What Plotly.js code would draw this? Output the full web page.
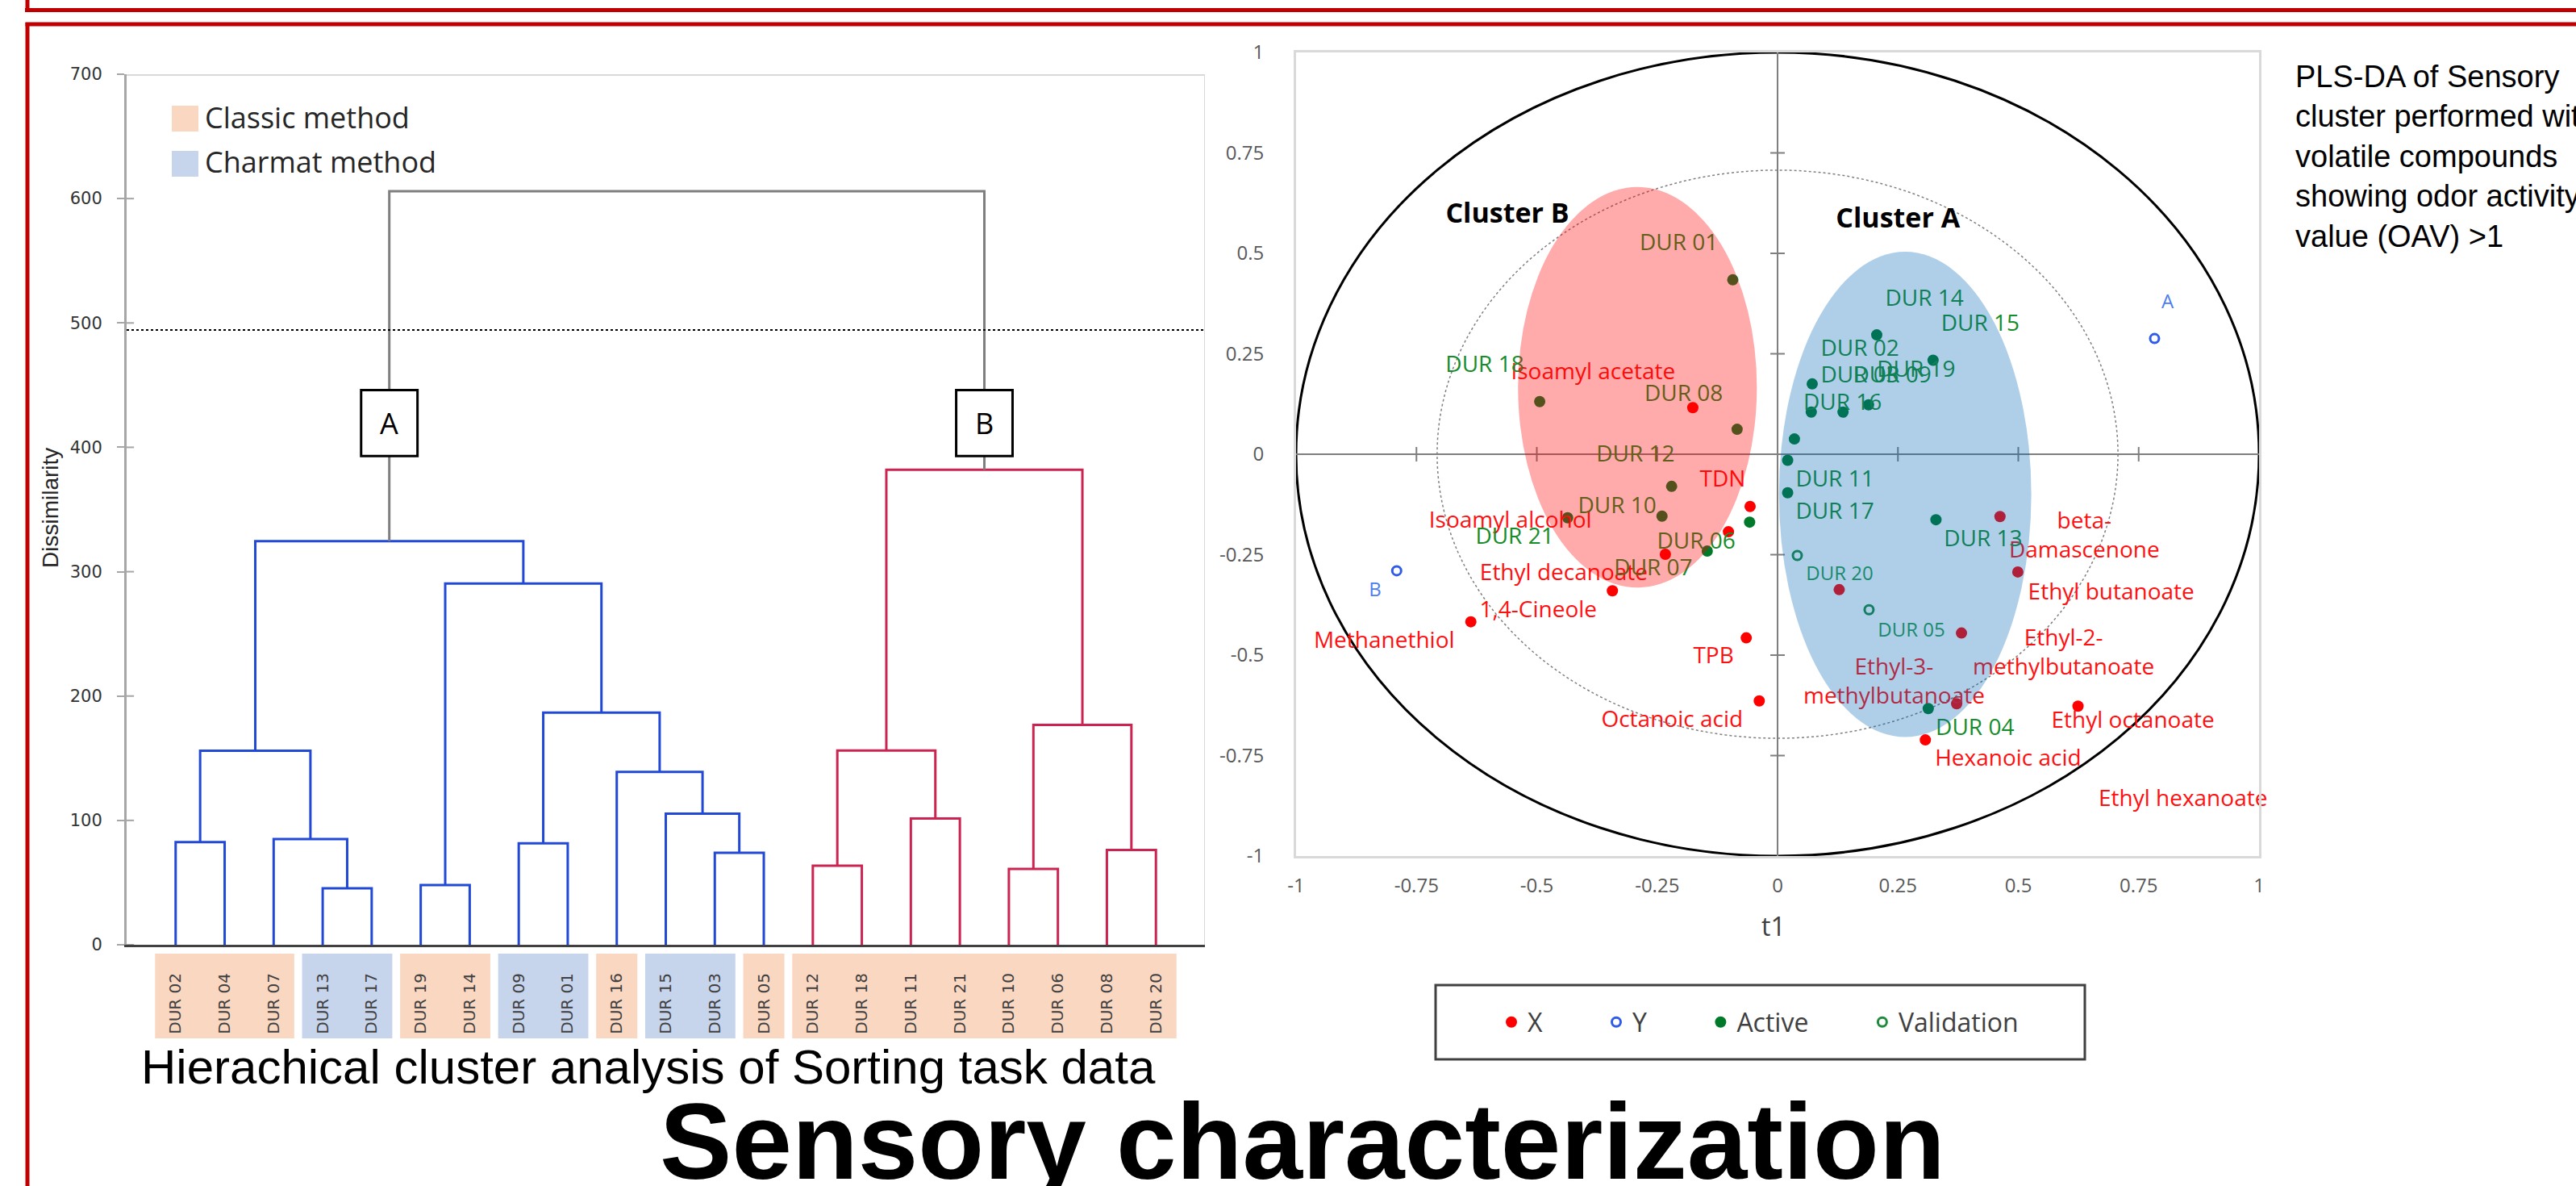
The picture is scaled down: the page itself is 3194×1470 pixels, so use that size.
<!DOCTYPE html>
<html><head><meta charset="utf-8">
<script src="https://cdn.plot.ly/plotly-3.0.1.min.js"></script>
<style>html,body{margin:0;padding:0;background:#fff;overflow:hidden}</style>
</head><body><div id="chart" style="width:3194px;height:1470px"></div>
<script>
// ---------------- Dendrogram data ----------------
const leafNames = ["DUR 02","DUR 04","DUR 07","DUR 13","DUR 17","DUR 19","DUR 14","DUR 09","DUR 01","DUR 16","DUR 15","DUR 03","DUR 05","DUR 12","DUR 18","DUR 11","DUR 21","DUR 10","DUR 06","DUR 08","DUR 20"];
const leafMethod = ["Classic","Classic","Classic","Charmat","Charmat","Classic","Classic","Charmat","Charmat","Classic","Charmat","Charmat","Classic","Classic","Classic","Classic","Classic","Classic","Classic","Classic","Classic"];
const mergeLeft   = ["DUR 13","DUR 19","DUR 03","DUR 09","DUR 02","DUR 07","DUR 15","DUR 16","n5","n4","n2","n9","DUR 10","DUR 12","DUR 08","DUR 11","n14","n13","n17","n12"];
const mergeRight  = ["DUR 17","DUR 14","DUR 05","DUR 01","DUR 04","n1","n3","n7","n6","n8","n10","n11","DUR 06","DUR 18","DUR 20","DUR 21","n16","n15","n18","n19"];
const mergeHeight = [45.4,48,74,81.6,82.5,85,105.4,139,156,186.7,290.5,324.5,61,63.5,76.2,101.6,156.2,176.8,382,606];
const mergeGroup  = ["A","A","A","A","A","A","A","A","A","A","A","A","B","B","B","B","B","B","B","top"];
const clusterNodes = ["n12","n19"];
const clusterLetters = ["A","B"];
const cutHeight = 494.3;
const dissimTicks = [0,100,200,300,400,500,600,700];
const methodNames = ["Classic method","Charmat method"];

// ---------------- PLS-DA data ----------------
const compoundNames = ["Isoamyl acetate","TDN","Isoamyl alcohol","Ethyl decanoate","1,4-Cineole","Methanethiol","TPB","Octanoic acid","beta-Damascenone","Ethyl butanoate","Ethyl-2-methylbutanoate","Ethyl-3-methylbutanoate","Ethyl octanoate","Hexanoic acid","Ethyl hexanoate"];
const compoundT1 = [-0.176,-0.057,-0.233,-0.343,-0.637,-0.102,-0.065,-0.038,0.462,0.499,0.382,0.372,0.624,0.307,0.128];
const compoundT2 = [0.116,-0.130,-0.249,-0.340,-0.417,-0.193,-0.457,-0.614,-0.155,-0.293,-0.445,-0.621,-0.627,-0.711,-0.337];
const compoundLabelText = ["Isoamyl acetate","TDN","Isoamyl alcohol","Ethyl decanoate","1,4-Cineole","Methanethiol","TPB","Octanoic acid","beta-<br>Damascenone","Ethyl butanoate","Ethyl-2-<br>methylbutanoate","Ethyl-3-<br>methylbutanoate","Ethyl octanoate","Hexanoic acid","Ethyl hexanoate"];
const compoundLabelT1 = [-0.383,-0.114,-0.555,-0.444,-0.497,-0.817,-0.133,-0.219,0.637,0.693,0.594,0.242,0.738,0.479,0.842];
const compoundLabelT2 = [0.200,-0.066,-0.169,-0.300,-0.392,-0.468,-0.506,-0.665,-0.207,-0.347,-0.498,-0.570,-0.667,-0.761,-0.862];

const yVarNames = ["A","B"];
const yVarT1 = [0.783,-0.791];
const yVarT2 = [0.288,-0.290];
const yVarLabelT1 = [0.810,-0.836];
const yVarLabelT2 = [0.375,-0.342];

const activeNames = ["DUR 01","DUR 18","DUR 08","DUR 12","DUR 10","DUR 21","DUR 06","DUR 07","DUR 14","DUR 15","DUR 02","DUR 03","DUR 09","DUR 19","DUR 16","DUR 11","DUR 17","DUR 13","DUR 04"];
const activeT1 = [-0.093,-0.494,-0.084,-0.220,-0.240,-0.436,-0.146,-0.058,0.206,0.323,0.072,0.070,0.136,0.189,0.035,0.021,0.021,0.329,0.313];
const activeT2 = [0.434,0.131,0.062,-0.080,-0.154,-0.158,-0.241,-0.169,0.297,0.234,0.175,0.105,0.105,0.123,0.038,-0.015,-0.096,-0.163,-0.633];
const activeLabelT1 = [-0.205,-0.608,-0.195,-0.295,-0.333,-0.546,-0.169,-0.258,0.305,0.421,0.171,0.171,0.238,0.288,0.135,0.119,0.119,0.427,0.410];
const activeLabelT2 = [0.522,0.219,0.146,-0.004,-0.1325,-0.2095,-0.2215,-0.2865,0.384,0.321,0.260,0.192,0.192,0.2075,0.125,-0.066,-0.147,-0.214,-0.685];

const validNames = ["DUR 20","DUR 05"];
const validT1 = [0.041,0.190];
const validT2 = [-0.252,-0.387];
const validLabelT1 = [0.129,0.278];
const validLabelT2 = [-0.302,-0.442];

const clusterLabelText = ["Cluster B","Cluster A"];
const clusterLabelT1 = [-0.561,0.250];
const clusterLabelT2 = [0.594,0.582];
const ellipseCx = [-0.291,0.265];
const ellipseCy = [0.1665,-0.100];
const ellipseRx = [0.248,0.262];
const ellipseRy = [0.4985,0.604];
const circleRadii = [1,0.707];

const axisTicks = [-1,-0.75,-0.5,-0.25,0,0.25,0.5,0.75,1];
const axisTickText = ["-1","-0.75","-0.5","-0.25","0","0.25","0.5","0.75","1"];

const legendNames = ["X","Y","Active","Validation"];

// ---------------- Build ----------------
const W = 3194, H = 1470;
const px = v => v / W, py = v => 1 - v / H;
const NB = "\u00a0";

const traces = [];
const shapes = [];
const annotations = [];

// dendrogram
const pos = {}, kids = {};
leafNames.forEach((n, i) => pos[n] = {x: i + 1, h: 0});
const groupColor = {A: "#2149D6", B: "#CC2450", top: "#7F7F7F"};
mergeLeft.forEach((l, k) => {
  const r = mergeRight[k], h = mergeHeight[k], L = pos[l], R = pos[r];
  traces.push({type: "scatter", mode: "lines", xaxis: "x", yaxis: "y",
    x: [L.x, L.x, R.x, R.x], y: [L.h, h, h, R.h],
    line: {color: groupColor[mergeGroup[k]], width: 3}, showlegend: false, hoverinfo: "skip"});
  pos["n" + (k + 1)] = {x: (L.x + R.x) / 2, h: h};
  kids["n" + (k + 1)] = [l, r];
});
function leavesOf(n) { return kids[n] ? leavesOf(kids[n][0]).concat(leavesOf(kids[n][1])) : [n]; }
const leafCluster = {};
clusterNodes.forEach((c, i) => leavesOf(c).forEach(l => leafCluster[l] = clusterLetters[i]));

// inner half of crossing ticks on the dissimilarity axis
const dtx = [], dty = [];
dissimTicks.forEach(v => { dtx.push(0, 0.15, null); dty.push(v, v, null); });
traces.push({type: "scatter", mode: "lines", xaxis: "x", yaxis: "y", x: dtx, y: dty,
  line: {color: "#A6A6A6", width: 2}, showlegend: false, hoverinfo: "skip"});

// method boxes behind leaf labels
const methodColor = {Classic: "#FAD7C0", Charmat: "#C6D4EC"};
let gStart = 0;
for (let i = 1; i <= leafNames.length; i++) {
  const brk = i === leafNames.length || leafMethod[i] !== leafMethod[gStart] || leafCluster[leafNames[i]] !== leafCluster[leafNames[gStart]];
  if (brk) {
    shapes.push({type: "rect", xref: "x", yref: "paper", x0: gStart + 1 - 0.42, x1: i + 0.42,
      y0: py(1287), y1: py(1182), fillcolor: methodColor[leafMethod[gStart]], line: {width: 0}, layer: "below"});
    gStart = i;
  }
}
// cluster boxes A / B
clusterNodes.forEach((c, i) => {
  const cx = pos[c].x;
  shapes.push({type: "rect", xref: "x", yref: "y", x0: cx - 0.575, x1: cx + 0.575, y0: 393, y1: 446,
    fillcolor: "#FFFFFF", line: {color: "#000000", width: 3}, layer: "above"});
  annotations.push({xref: "x", yref: "y", x: cx, y: 419.5, xanchor: "center", yanchor: "middle", text: clusterLetters[i], showarrow: false,
    font: {family: "Open Sans", size: 36, color: "#000"}});
});
// cut line, frame lines of dendrogram
shapes.push({type: "line", xref: "x", yref: "y", x0: 0, x1: 22, y0: cutHeight, y1: cutHeight, line: {color: "#000", width: 2, dash: "dot"}});
shapes.push({type: "line", xref: "x", yref: "y", x0: 0, x1: 22, y0: 700, y1: 700, line: {color: "#D9D9D9", width: 4}});
shapes.push({type: "line", xref: "x", yref: "y", x0: 22, x1: 22, y0: 0, y1: 700, line: {color: "#D9D9D9", width: 2}});
// dendrogram legend
[[131, 163], [187, 219]].forEach((yy, i) => {
  shapes.push({type: "rect", xref: "paper", yref: "paper", x0: px(213), x1: px(246), y0: py(yy[1]), y1: py(yy[0]),
    fillcolor: methodColor[i === 0 ? "Classic" : "Charmat"], line: {width: 0}});
  annotations.push({xref: "paper", yref: "paper", x: px(252), y: py((yy[0] + yy[1]) / 2 - 2), xanchor: "left", yanchor: "middle",
    text: methodNames[i], showarrow: false, font: {family: "Open Sans", size: 36, color: "#262626"}});
});
annotations.push({xref: "paper", yref: "paper", x: px(62), y: py(630), xanchor: "center", yanchor: "middle", text: "Dissimilarity", textangle: -90, showarrow: false,
  font: {family: "Liberation Sans, Arial", size: 28, color: "#262626"}});

// ---------------- PLS-DA ----------------
// axis crossing ticks
const stx = [], sty = [];
axisTicks.forEach(v => { if (v !== 0 && Math.abs(v) < 1) { stx.push(v, v, null); sty.push(-0.018, 0.018, null); stx.push(-0.015, 0.015, null); sty.push(v, v, null); } });
traces.push({type: "scatter", mode: "lines", xaxis: "x2", yaxis: "y2", x: stx, y: sty,
  line: {color: "#7F7F7F", width: 2}, showlegend: false, hoverinfo: "skip"});

const pad = NB.repeat(8);
traces.push({type: "scatter", mode: "markers", xaxis: "x2", yaxis: "y2", name: legendNames[0] + pad, x: compoundT1, y: compoundT2, text: compoundNames,
  hovertemplate: "%{text}<extra></extra>", marker: {color: "#FF0000", size: 14}, showlegend: true});
traces.push({type: "scatter", mode: "markers", xaxis: "x2", yaxis: "y2", name: legendNames[1] + pad, x: yVarT1, y: yVarT2, text: yVarNames,
  hovertemplate: "%{text}<extra></extra>", marker: {color: "#2F5BEA", size: 11, symbol: "circle-open", line: {width: 3, color: "#2F5BEA"}}, showlegend: true});
traces.push({type: "scatter", mode: "markers", xaxis: "x2", yaxis: "y2", name: legendNames[2] + pad, x: activeT1, y: activeT2, text: activeNames,
  hovertemplate: "%{text}<extra></extra>", marker: {color: "#007A2A", size: 14}, showlegend: true});
traces.push({type: "scatter", mode: "markers", xaxis: "x2", yaxis: "y2", name: legendNames[3], x: validT1, y: validT2, text: validNames,
  hovertemplate: "%{text}<extra></extra>", marker: {color: "#1E8A3C", size: 11, symbol: "circle-open", line: {width: 3, color: "#1E8A3C"}}, showlegend: true});

// labels
const lab = (x, y, t, size, color, fam) => ({type: "scatter", mode: "text", xaxis: "x2", yaxis: "y2", x: x, y: y, text: t,
  textposition: "middle center", cliponaxis: false, textfont: {family: fam || "Open Sans", size: size, color: color},
  showlegend: false, hoverinfo: "skip"});
traces.push(lab(compoundLabelT1, compoundLabelT2, compoundLabelText, 28, "#FF1010"));
traces.push(lab(activeLabelT1, activeLabelT2, activeNames, 28, "#168C2A"));
traces.push(lab(validLabelT1, validLabelT2, validNames, 24, "#2A9A4A"));
traces.push(lab(yVarLabelT1, yVarLabelT2, yVarNames, 24, "#4D7CF2"));
traces.push(lab(clusterLabelT1, clusterLabelT2, clusterLabelText.map(s => "<b>" + s + "</b>"), 34, "#000000"));

// correlation circles
circleRadii.forEach((r, i) => shapes.push({type: "circle", xref: "x2", yref: "y2", x0: -r, x1: r, y0: -r, y1: r,
  line: i === 0 ? {color: "#000", width: 3} : {color: "#808080", width: 1.5, dash: "dot"}, layer: "below"}));
// cluster ellipses (translucent overlays)
const ellFill = ["rgb(255,0,0)", "rgb(0,102,185)"], ellOp = [0.33, 0.314];
ellipseCx.forEach((c, i) => shapes.push({type: "circle", xref: "x2", yref: "y2",
  x0: c - ellipseRx[i], x1: c + ellipseRx[i], y0: ellipseCy[i] - ellipseRy[i], y1: ellipseCy[i] + ellipseRy[i],
  fillcolor: ellFill[i], opacity: ellOp[i], line: {width: 0}, layer: "above"}));

annotations.push({xref: "paper", yref: "paper", x: px(2199), y: py(1147), xanchor: "center", yanchor: "middle", text: "t1", showarrow: false,
  font: {family: "Open Sans", size: 32, color: "#404040"}});
// legend box
shapes.push({type: "rect", xref: "paper", yref: "paper", x0: px(1780), x1: px(2585), y0: py(1313), y1: py(1221),
  line: {color: "#404040", width: 3}, fillcolor: "rgba(0,0,0,0)"});

// ---------------- Poster texts & frame ----------------
annotations.push({xref: "paper", yref: "paper", x: px(2844), y: py(72), xanchor: "left", yanchor: "top", align: "left", showarrow: false,
  text: "PLS-DA of Sensory<br>cluster performed with<br>volatile compounds<br>showing odor activity<br>value (OAV) &gt;1",
  font: {family: "Liberation Sans, Arial", size: 38, color: "#000"}});
annotations.push({xref: "paper", yref: "paper", x: px(173), y: py(1322), xanchor: "left", yanchor: "middle", showarrow: false,
  text: "Hierachical cluster analysis of Sorting task data", font: {family: "Liberation Sans, Arial", size: 60, color: "#000"}});
annotations.push({xref: "paper", yref: "paper", x: px(1615), y: py(1414), xanchor: "center", yanchor: "middle", showarrow: false,
  text: "<b>Sensory characterization</b>", font: {family: "Liberation Sans, Arial", size: 134, color: "#000"}});

const red = "#C00000";
shapes.push({type: "line", xref: "paper", yref: "paper", x0: px(31), x1: 1.01, y0: py(12.5), y1: py(12.5), line: {color: red, width: 5}});
shapes.push({type: "line", xref: "paper", yref: "paper", x0: px(34), x1: px(34), y0: py(15), y1: 1.01, line: {color: red, width: 5}});
shapes.push({type: "line", xref: "paper", yref: "paper", x0: px(31.5), x1: 1.01, y0: py(30), y1: py(30), line: {color: red, width: 5}});
shapes.push({type: "line", xref: "paper", yref: "paper", x0: px(34), x1: px(34), y0: -0.01, y1: py(28), line: {color: red, width: 5}});

const layout = {
  width: W, height: H, margin: {l: 0, r: 0, t: 0, b: 0}, paper_bgcolor: "#fff", plot_bgcolor: "#fff",
  showlegend: true,
  legend: {orientation: "h", x: px(1854), xanchor: "left", y: py(1267), yanchor: "middle", bgcolor: "rgba(0,0,0,0)",
    borderwidth: 0, font: {family: "Open Sans", size: 32, color: "#404040"}, itemclick: false, itemdoubleclick: false},
  xaxis: {domain: [px(157), px(1494)], range: [0, 22], anchor: "y", tickvals: leafNames.map((n, i) => i + 1), ticktext: leafNames,
    tickangle: -90, ticks: "outside", ticklen: 24, tickcolor: "rgba(0,0,0,0)", showgrid: false, zeroline: false,
    showline: true, linecolor: "#404040", linewidth: 3, tickfont: {family: "DejaVu Sans", size: 20, color: "#404040"}, fixedrange: true},
  yaxis: {domain: [py(1171), py(92)], range: [0, 700], anchor: "x", tickvals: dissimTicks, ticks: "outside", ticklen: 9,
    tickcolor: "#A6A6A6", tickwidth: 2, ticklabelstandoff: 14, showgrid: false, zeroline: false, showline: true,
    linecolor: "#A6A6A6", linewidth: 3, tickfont: {family: "DejaVu Sans", size: 21, color: "#333"}, fixedrange: true},
  xaxis2: {domain: [px(1607), px(2801)], range: [-1, 1], anchor: "y2", tickvals: axisTicks, ticktext: axisTickText,
    ticks: "outside", ticklen: 13, tickcolor: "rgba(0,0,0,0)", showgrid: false, zeroline: true, zerolinecolor: "#7F7F7F",
    zerolinewidth: 2, showline: true, mirror: true, linecolor: "#D9D9D9", linewidth: 3,
    tickfont: {family: "Open Sans", size: 24, color: "#595959"}, fixedrange: true},
  yaxis2: {domain: [py(1061), py(65)], range: [-1, 1], anchor: "x2", tickvals: axisTicks, ticktext: axisTickText,
    ticks: "outside", ticklen: 32, tickcolor: "rgba(0,0,0,0)", showgrid: false, zeroline: true, zerolinecolor: "#7F7F7F",
    zerolinewidth: 2, showline: true, mirror: true, linecolor: "#D9D9D9", linewidth: 3,
    tickfont: {family: "Open Sans", size: 24, color: "#595959"}, fixedrange: true},
  shapes: shapes, annotations: annotations
};
Plotly.newPlot("chart", traces, layout, {displayModeBar: false, staticPlot: false});
</script></body></html>
